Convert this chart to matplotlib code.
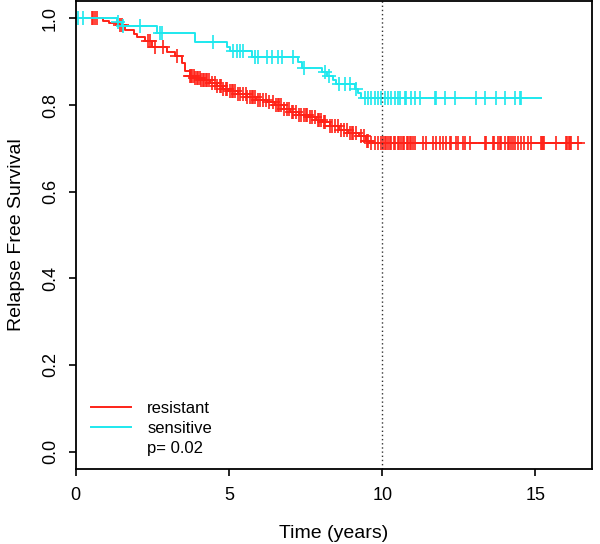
import numpy as np
import matplotlib
matplotlib.use("Agg")
import matplotlib.pyplot as plt

plt.rcParams['font.family'] = ['Liberation Sans', 'DejaVu Sans']

# Kaplan-Meier steps (time in years, survival)
res_times = [0.0, 0.9, 1.1, 1.4, 1.6, 1.9, 2.0, 2.27, 2.5, 2.97, 3.24, 3.47, 3.57,
             3.73, 3.9, 4.1, 4.38, 4.6, 4.8, 5.0, 5.3, 5.6, 5.9, 6.23, 6.5, 6.8,
             7.0, 7.3, 7.6, 7.85, 8.07, 8.3, 8.6, 8.9, 9.25, 9.47, 9.6]
res_surv = [1.0, 0.995, 0.99, 0.985, 0.973, 0.963, 0.956, 0.948, 0.933, 0.922, 0.913,
            0.898, 0.878, 0.867, 0.862, 0.858, 0.852, 0.845, 0.838, 0.832, 0.826,
            0.818, 0.812, 0.806, 0.799, 0.79, 0.783, 0.778, 0.772, 0.765, 0.76,
            0.752, 0.742, 0.735, 0.728, 0.717, 0.713]
res_end = 16.49
res_censor = [0.53, 0.58, 0.63, 0.69, 1.45, 1.5, 2.36, 2.43, 2.59, 2.85, 3.3, 3.73, 3.76,
              3.8, 3.85, 3.9, 3.95, 4.0, 4.05, 4.1, 4.15, 4.2, 4.25, 4.3, 4.35, 4.45,
              4.55, 4.6, 4.7, 4.75, 4.8, 4.9, 4.95, 5.05, 5.1, 5.15, 5.2, 5.3, 5.35,
              5.45, 5.55, 5.6, 5.7, 5.75, 5.8, 5.85, 5.95, 6.0, 6.1, 6.2, 6.3, 6.45,
              6.55, 6.6, 6.65, 6.7, 6.8, 6.9, 6.95, 7.05, 7.1, 7.2, 7.3, 7.35, 7.45,
              7.5, 7.55, 7.65, 7.7, 7.8, 7.9, 7.95, 8.0, 8.1, 8.15, 8.3, 8.35, 8.45,
              8.55, 8.65, 8.75, 8.85, 8.95, 9.0, 9.05, 9.15, 9.3, 9.4, 9.5, 9.55,
              9.65, 9.76, 9.86, 9.97, 10.02, 10.08, 10.12, 10.2, 10.25, 10.3, 10.38,
              10.42, 10.5, 10.55, 10.6, 10.68, 10.72, 10.8, 10.85, 10.9, 10.95, 11.02,
              11.08, 11.33, 11.44, 11.65, 11.76, 11.87, 11.98, 12.09, 12.2, 12.25,
              12.42, 12.47, 12.63, 12.69, 12.85, 13.34, 13.39, 13.61, 13.66, 13.77,
              13.83, 13.88, 13.99, 14.1, 14.15, 14.21, 14.26, 14.32, 14.42, 14.53,
              14.64, 14.75, 14.86, 15.19, 15.22, 15.26, 15.29, 15.67, 16.0, 16.04,
              16.08, 16.12, 16.16, 16.38]

sen_times = [0.0, 1.34, 1.5, 2.64, 3.9, 4.95, 5.05, 5.75, 7.25, 7.4, 8.05, 8.2, 8.4,
             8.5, 9.1, 9.2, 9.32]
sen_surv = [1.0, 0.992, 0.982, 0.967, 0.945, 0.933, 0.924, 0.912, 0.9, 0.885, 0.876,
            0.867, 0.857, 0.848, 0.836, 0.827, 0.817]
sen_end = 15.19
sen_censor = [0.08, 0.25, 1.38, 1.55, 2.1, 2.75, 2.81, 4.48, 5.13, 5.25, 5.36, 5.46,
              5.85, 5.95, 6.23, 6.39, 6.6, 6.72, 7.1, 7.45, 8.12, 8.25, 8.6, 8.78,
              8.94, 9.16, 9.43, 9.54, 9.65, 9.76, 9.86, 9.97, 10.08, 10.19, 10.3,
              10.41, 10.52, 10.57, 10.73, 10.78, 10.95, 11.06, 11.22, 11.71, 11.77,
              12.04, 12.36, 13.07, 13.34, 13.72, 13.99, 14.32, 14.48, 14.53]

legend_labels = ['resistant', 'sensitive']
p_text = 'p= 0.02'
RED = '#ff2218'
CYAN = '#1ee8ee'


def km_curve(ax, times, surv, end, censor, color):
    t = np.r_[times, end]
    s = np.r_[surv, surv[-1]]
    ax.step(t, s, where='post', color=color, lw=1.4)
    idx = np.searchsorted(times, censor, side='right') - 1
    ax.plot(censor, np.asarray(surv)[idx], ls='none', marker='+',
            color=color, ms=9.5, mew=1.2)


fig = plt.figure(figsize=(6.0, 5.44), dpi=100)
ax = fig.add_axes([0.126, 0.138, 0.861, 0.86])

km_curve(ax, res_times, res_surv, res_end, res_censor, RED)
km_curve(ax, sen_times, sen_surv, sen_end, sen_censor, CYAN)
ax.axvline(10, color='#333333', ls=(0, (1, 2)), lw=1)

ax.set_xlim(0, 16.85)
ax.set_ylim(-0.04, 1.04)
ax.set_xticks([0, 5, 10, 15])
ax.set_yticks([0.0, 0.2, 0.4, 0.6, 0.8, 1.0])
ax.set_yticklabels(['0.0', '0.2', '0.4', '0.6', '0.8', '1.0'], rotation=90,
                   va='center')
ax.tick_params(direction='out', length=5, width=1.2, labelsize=13, pad=8)
ax.tick_params(axis='y', pad=7)
for sp in ax.spines.values():
    sp.set_linewidth(1.3)

ax.set_xlabel('Time (years)', fontsize=14, labelpad=15)
ax.set_ylabel('Relapse Free Survival', fontsize=14, labelpad=12)

# legend drawn like R's legend(): two lines plus a line-less p value entry
handles = [plt.Line2D([], [], color=RED, lw=1.4),
           plt.Line2D([], [], color=CYAN, lw=1.4),
           plt.Line2D([], [], color='none')]
ax.legend(handles, legend_labels + [p_text], loc='lower left', frameon=False,
          fontsize=12, handlelength=2.4, handletextpad=1.0, labelspacing=0.3,
          bbox_to_anchor=(0.0, -0.005))

fig.savefig('out.png', dpi=100)
